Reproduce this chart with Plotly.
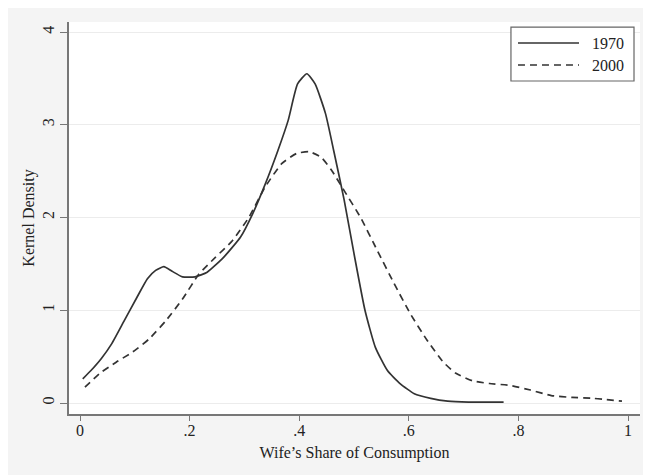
import plotly.graph_objects as go

# Kernel density estimates
x_1970 = [0.005, 0.02, 0.039, 0.058, 0.081, 0.104, 0.123, 0.138, 0.153, 0.168, 0.187, 0.21, 0.232,
          0.262, 0.293, 0.315, 0.338, 0.361, 0.38, 0.397, 0.414, 0.429, 0.448, 0.463, 0.482, 0.5,
          0.52, 0.539, 0.561, 0.584, 0.61, 0.64, 0.671, 0.709, 0.773]
y_1970 = [0.26, 0.35, 0.48, 0.64, 0.89, 1.14, 1.34, 1.43, 1.47, 1.42, 1.36, 1.36, 1.41,
          1.57, 1.79, 2.04, 2.36, 2.72, 3.05, 3.44, 3.55, 3.44, 3.12, 2.72, 2.19, 1.61,
          1.0, 0.6, 0.35, 0.21, 0.10, 0.05, 0.02, 0.01, 0.01]

x_2000 = [0.009, 0.036, 0.066, 0.096, 0.126, 0.157, 0.187, 0.217, 0.247, 0.278, 0.308, 0.338,
          0.368, 0.395, 0.418, 0.44, 0.459, 0.482, 0.512, 0.542, 0.573, 0.603, 0.633, 0.663,
          0.686, 0.716, 0.747, 0.784, 0.822, 0.86, 0.898, 0.936, 0.989]
y_2000 = [0.17, 0.32, 0.44, 0.55, 0.69, 0.89, 1.12, 1.39, 1.57, 1.75, 2.0, 2.33,
          2.58, 2.69, 2.71, 2.65, 2.51, 2.29, 2.0, 1.65, 1.29, 0.96, 0.68, 0.44,
          0.32, 0.24, 0.21, 0.19, 0.14, 0.08, 0.06, 0.05, 0.02]

series_names = ["1970", "2000"]
x_ticks = [0, 0.2, 0.4, 0.6, 0.8, 1]
x_tick_labels = ["0", ".2", ".4", ".6", ".8", "1"]
y_ticks = [0, 1, 2, 3, 4]
y_tick_labels = ["0", "1", "2", "3", "4"]

FONT = "Liberation Serif"
TXT = "#222222"
LINE = "#333333"
DASH = "7px,5px"

fig = go.Figure()
fig.add_trace(go.Scatter(x=x_1970, y=y_1970, mode="lines", name=series_names[0], showlegend=False,
                         line=dict(color=LINE, width=1.7, shape="spline", smoothing=0.5)))
fig.add_trace(go.Scatter(x=x_2000, y=y_2000, mode="lines", name=series_names[1], showlegend=False,
                         line=dict(color=LINE, width=1.7, dash=DASH, shape="spline", smoothing=0.5)))

# Stata-style legend box (drawn manually to get the long line samples)
fig.add_shape(type="rect", xref="paper", yref="paper", x0=0.774, x1=0.9895, y0=0.8495, y1=0.987,
              fillcolor="white", line=dict(color="#666666", width=1.2), layer="above")
fig.add_shape(type="line", xref="paper", yref="paper", x0=0.7863, x1=0.8932, y0=0.9464, y1=0.9464,
              line=dict(color=LINE, width=1.7), layer="above")
fig.add_shape(type="line", xref="paper", yref="paper", x0=0.7863, x1=0.8932, y0=0.8903, y1=0.8903,
              line=dict(color=LINE, width=1.7, dash=DASH), layer="above")
for name, yy in zip(series_names, [0.9464, 0.8903]):
    fig.add_annotation(text=name, xref="paper", yref="paper", x=0.9124, y=yy,
                       xanchor="left", yanchor="middle", showarrow=False,
                       font=dict(family=FONT, size=16, color=TXT))

fig.update_layout(
    width=643, height=467,
    margin=dict(l=61, r=11, t=14, b=61),
    paper_bgcolor="#f4f4f4",
    plot_bgcolor="white",
    font=dict(family=FONT, size=16, color=TXT),
    showlegend=False,
    xaxis=dict(range=[-0.0201, 1.0219], tickvals=x_ticks, ticktext=x_tick_labels,
               showgrid=False, zeroline=False, showline=True, linecolor="#777777", linewidth=1.5,
               ticks="outside", ticklen=5, tickcolor="#777777", tickwidth=1.2,
               ticklabelstandoff=-4,
               tickfont=dict(family=FONT, size=16, color=TXT),
               title=dict(text="Wife’s Share of Consumption", font=dict(family=FONT, size=16, color=TXT),
                          standoff=9)),
    yaxis=dict(range=[-0.1186, 4.108], tickvals=y_ticks, ticktext=y_tick_labels,
               showgrid=True, gridcolor="#ececec", gridwidth=1, zeroline=False,
               showline=True, linecolor="#777777", linewidth=1.5,
               ticks="outside", ticklen=7, tickcolor="#777777", tickwidth=1.2, tickangle=-90,
               tickfont=dict(family=FONT, size=16, color=TXT),
               title=dict(text="Kernel Density", font=dict(family=FONT, size=16, color=TXT),
                          standoff=1)),
)

fig.write_html("out.html")
